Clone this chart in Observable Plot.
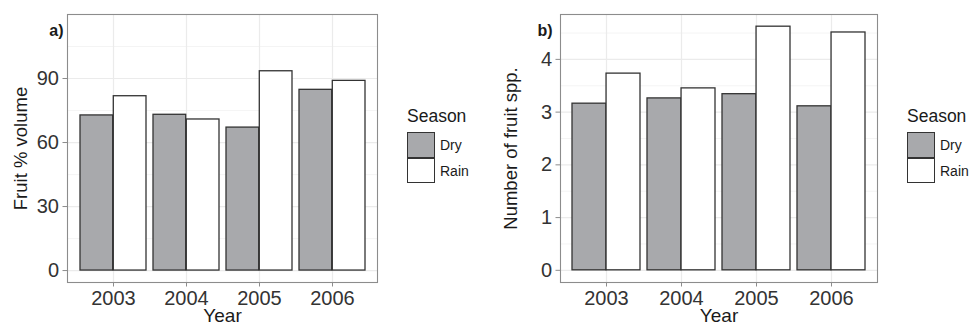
<!DOCTYPE html>
<html><head><meta charset="utf-8">
<script src="https://cdn.jsdelivr.net/npm/d3@7"></script>
<script src="https://cdn.jsdelivr.net/npm/@observablehq/plot@0.6"></script>
<style>
body{margin:0;background:#fff;}
#wrap{position:relative;width:972px;height:325px;overflow:hidden;font-family:"Liberation Sans",Arial,sans-serif;}
.panel{position:absolute;top:0;}
.legend{position:absolute;top:0;color:#1a1a1a;}
.legend .title{position:absolute;left:0;top:106px;font-size:17.5px;white-space:nowrap;}
.legend .key{position:absolute;left:0;width:25.5px;height:23.5px;border:1.3px solid #333;}
.legend .lab{position:absolute;left:33px;font-size:14px;white-space:nowrap;line-height:16px;}
</style></head><body><div id="wrap"></div>
<script>
const years = ["2003", "2004", "2005", "2006"];
const seasons = ["Dry", "Rain"];
const fruitVolumeDry  = [72.7, 73.0, 67.0, 84.7];
const fruitVolumeRain = [81.7, 70.8, 93.4, 88.9];
const fruitSppDry  = [3.16, 3.26, 3.34, 3.11];
const fruitSppRain = [3.73, 3.45, 4.62, 4.51];
const yTicksA = [0, 30, 60, 90];
const yMinorA = [15, 45, 75, 105];
const yTicksB = [0, 1, 2, 3, 4];
const yMinorB = [0.5, 1.5, 2.5, 3.5, 4.5];
const seasonFill = {Dry: "#a8a9ac", Rain: "#ffffff"};

const wrap = document.getElementById("wrap");
const PI = 0.1, PO = 0.145;

function panel({left, width, marginLeft, marginRight, yDomain, ticks, minor, dry, rain, yLabel, tag, yLabelDx, tagDx}) {
  const marginTop = 14, marginBottom = 43;
  const inner = width - marginLeft - marginRight;
  const step = inner / (years.length - PI + 2 * PO);
  const half = step * (1 - PI) / 2;
  const rows = years.flatMap((yr, i) => [
    {year: yr, season: "Dry", value: dry[i]},
    {year: yr, season: "Rain", value: rain[i]}
  ]);
  const chart = Plot.plot({
    width, height: 325, marginLeft, marginRight, marginTop, marginBottom,
    style: {fontFamily: '"Liberation Sans", Arial, sans-serif', fontSize: "20px", overflow: "visible", background: "transparent"},
    x: {type: "band", domain: years, paddingInner: PI, paddingOuter: PO, axis: null},
    y: {domain: yDomain, axis: null},
    marks: [
      Plot.ruleY(minor, {y: d => d, stroke: "#f1f1f1", strokeWidth: 0.8}),
      Plot.ruleY(ticks, {y: d => d, stroke: "#ebebeb", strokeWidth: 1.2}),
      Plot.ruleX(years, {x: d => d, stroke: "#ebebeb", strokeWidth: 1.2}),
      Plot.barY(rows.filter(d => d.season === "Dry"), {x: "year", y: "value", fill: seasonFill.Dry, stroke: "#333", strokeWidth: 1.3, insetRight: half}),
      Plot.barY(rows.filter(d => d.season === "Rain"), {x: "year", y: "value", fill: seasonFill.Rain, stroke: "#333", strokeWidth: 1.3, insetLeft: half}),
      Plot.frame({stroke: "#8c8c8c", strokeWidth: 1.1}),
      Plot.axisY(ticks, {tickSize: 4.5, tickPadding: 4, fontSize: 20, fill: "#333", stroke: "#8c8c8c", label: null, tickFormat: d => String(d)}),
      Plot.axisX(years, {tickSize: 4.5, tickPadding: 3.5, fontSize: 20, fill: "#333", stroke: "#8c8c8c", label: null}),
      Plot.text([yLabel], {text: d => d, frameAnchor: "left", dx: yLabelDx, rotate: -90, textAnchor: "middle", lineAnchor: "top", fontSize: 18.5, fill: "#1a1a1a"}),
      Plot.text(["Year"], {text: d => d, frameAnchor: "bottom", dy: 25.5, textAnchor: "middle", lineAnchor: "top", fontSize: 19, fill: "#1a1a1a"}),
      Plot.text([tag], {text: d => d, frameAnchor: "top-left", dx: tagDx, dy: 10.5, textAnchor: "end", lineAnchor: "top", fontSize: 16, fontWeight: "bold", fill: "#1a1a1a"})
    ]
  });
  chart.classList.add("panel");
  chart.style.left = left + "px";
  wrap.appendChild(chart);
}

function legend(left) {
  const lg = document.createElement("div");
  lg.className = "legend";
  lg.style.left = left + "px";
  let html = '<div class="title">Season</div>';
  seasons.forEach((s, i) => {
    const top = 132 + i * 25.5;
    html += `<div class="key" style="top:${top}px;background:${seasonFill[s]}"></div>`;
    html += `<div class="lab" style="top:${top + 5}px">${s}</div>`;
  });
  lg.innerHTML = html;
  wrap.appendChild(lg);
}

panel({left: 0, width: 380, marginLeft: 67, marginRight: 3, yDomain: [-5.6, 120], ticks: yTicksA, minor: yMinorA,
  dry: fruitVolumeDry, rain: fruitVolumeRain, yLabel: "Fruit % volume", tag: "a)", yLabelDx: -54, tagDx: -4});
panel({left: 490, width: 390, marginLeft: 70, marginRight: 3, yDomain: [-0.231, 4.851], ticks: yTicksB, minor: yMinorB,
  dry: fruitSppDry, rain: fruitSppRain, yLabel: "Number of fruit spp.", tag: "b)", yLabelDx: -57, tagDx: -8});
legend(407);
legend(907);
</script></body></html>
